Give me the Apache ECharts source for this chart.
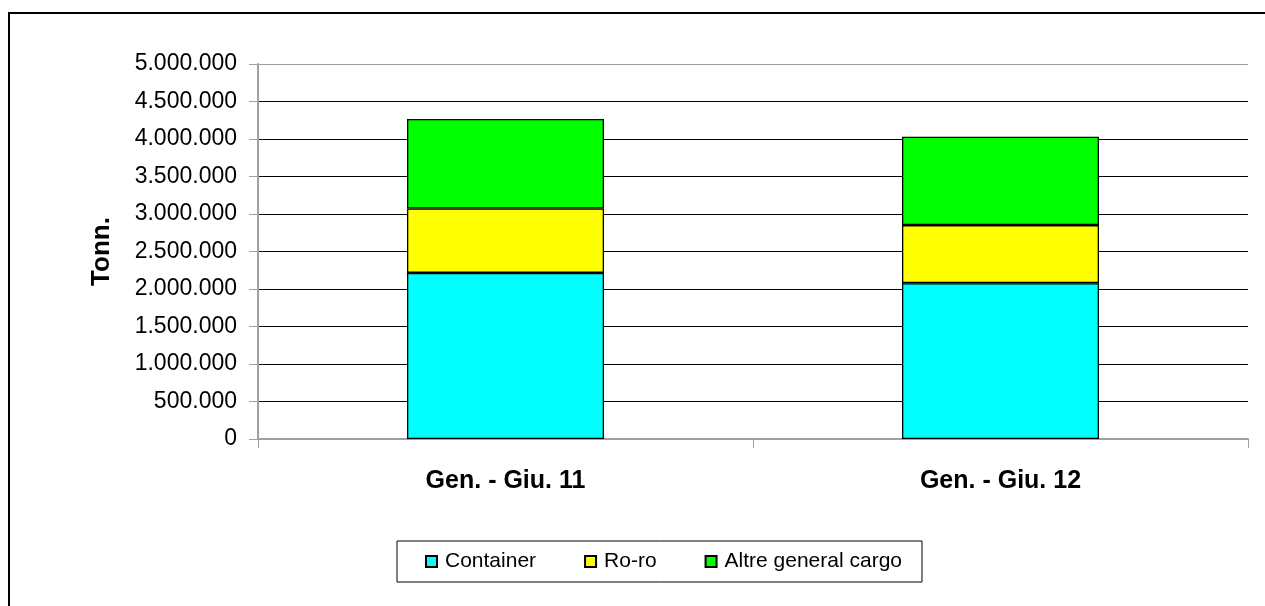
<!DOCTYPE html>
<html>
<head>
<meta charset="utf-8">
<script src="https://cdn.jsdelivr.net/npm/echarts@6/dist/echarts.min.js"></script>
<style>
  html, body { margin: 0; padding: 0; background: #fff; }
  #chart { width: 1265px; height: 606px; }
</style>
</head>
<body>
<div id="chart"></div>
<script>
var categories = ["Gen. - Giu. 11", "Gen. - Giu. 12"];
var container = [2215000, 2078000];
var roro = [859000, 774000];
var altre = [1192000, 1178000];

function fmt(v) {
  return String(v).replace(/\B(?=(\d{3})+(?!\d))/g, ".");
}

var chart = echarts.init(document.getElementById("chart"));
var font = "'Liberation Sans', Arial, sans-serif";

chart.setOption({
  animation: false,
  textStyle: { fontFamily: font, color: "#000" },
  graphic: [
    {
      type: "rect",
      shape: { x: 9, y: 13, width: 1400, height: 800 },
      style: { fill: "none", stroke: "#000", lineWidth: 2 },
      silent: true
    }
  ],
  grid: { left: 258, right: 17, top: 64, bottom: 167, show: false },
  legend: {
    left: 397,
    top: 541,
    padding: [10, 20, 10, 28],
    itemGap: 48,
    itemWidth: 11,
    itemHeight: 11,
    borderColor: "#000",
    borderWidth: 1,
    backgroundColor: "#fff",
    textStyle: { fontSize: 21, fontFamily: font, color: "#000", padding: [0, 0, 0, 3] },
    data: [
      { name: "Container", icon: "rect" },
      { name: "Ro-ro", icon: "rect" },
      { name: "Altre general cargo", icon: "rect" }
    ]
  },
  xAxis: {
    type: "category",
    data: categories,
    axisLine: { lineStyle: { color: "#a0a0a0", width: 2 } },
    axisTick: { show: true, length: 9, lineStyle: { color: "#a0a0a0", width: 1 } },
    axisLabel: { fontSize: 25, fontWeight: "bold", color: "#000", margin: 30, fontFamily: font }
  },
  yAxis: {
    type: "value",
    min: 0,
    max: 5000000,
    interval: 500000,
    name: "Tonn.",
    nameLocation: "middle",
    nameGap: 143,
    nameTextStyle: { fontSize: 26, fontWeight: "bold", color: "#000", fontFamily: font },
    axisLine: { show: true, lineStyle: { color: "#a0a0a0", width: 2 } },
    axisTick: { show: true, length: 9, lineStyle: { color: "#a0a0a0", width: 1 } },
    axisLabel: {
      fontSize: 23,
      color: "#000",
      margin: 21,
      fontFamily: font,
      formatter: fmt
    },
    splitLine: {
      lineStyle: {
        color: ["#a0a0a0", "#000", "#000", "#000", "#000", "#000", "#000", "#000", "#000", "#000"],
        width: 1
      }
    }
  },
  series: [
    {
      name: "Container",
      type: "bar",
      stack: "tot",
      barWidth: 197,
      data: container,
      itemStyle: { color: "#00ffff", borderColor: "#000", borderWidth: 1.3 }
    },
    {
      name: "Ro-ro",
      type: "bar",
      stack: "tot",
      barWidth: 197,
      data: roro,
      itemStyle: { color: "#ffff00", borderColor: "#000", borderWidth: 1.3 }
    },
    {
      name: "Altre general cargo",
      type: "bar",
      stack: "tot",
      barWidth: 197,
      data: altre,
      itemStyle: { color: "#00ff00", borderColor: "#000", borderWidth: 1.3 }
    }
  ]
});
</script>
</body>
</html>
